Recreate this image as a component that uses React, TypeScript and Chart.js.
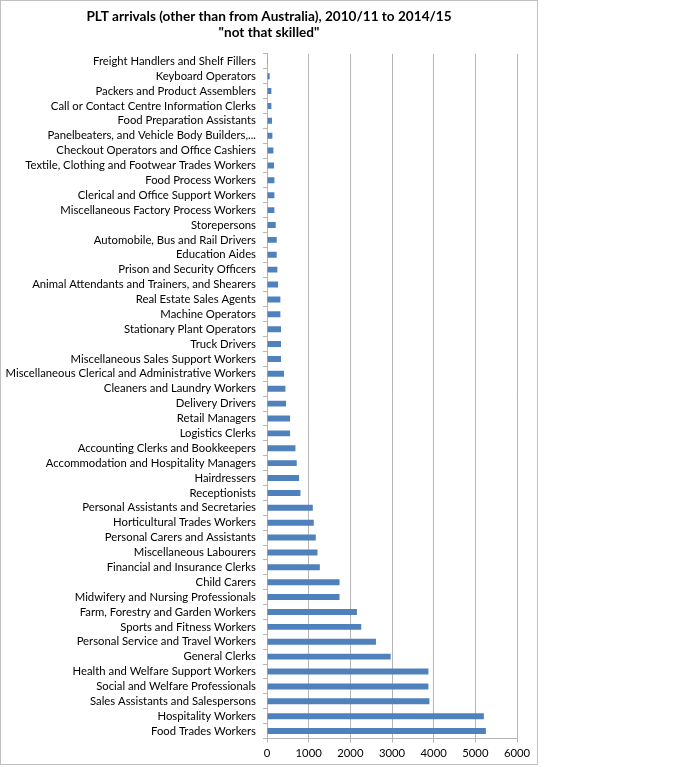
import React, { useEffect, useRef } from "react";
import { Chart, registerables } from "chart.js";

Chart.register(...registerables);

const categories: string[] = [
  "Freight Handlers and Shelf Fillers",
  "Keyboard Operators",
  "Packers and Product Assemblers",
  "Call or Contact Centre Information Clerks",
  "Food Preparation Assistants",
  "Panelbeaters, and Vehicle Body Builders,...",
  "Checkout Operators and Office Cashiers",
  "Textile, Clothing and Footwear Trades Workers",
  "Food Process Workers",
  "Clerical and Office Support Workers",
  "Miscellaneous Factory Process Workers",
  "Storepersons",
  "Automobile, Bus and Rail Drivers",
  "Education Aides",
  "Prison and Security Officers",
  "Animal Attendants and Trainers, and Shearers",
  "Real Estate Sales Agents",
  "Machine Operators",
  "Stationary Plant Operators",
  "Truck Drivers",
  "Miscellaneous Sales Support Workers",
  "Miscellaneous Clerical and Administrative Workers",
  "Cleaners and Laundry Workers",
  "Delivery Drivers",
  "Retail Managers",
  "Logistics Clerks",
  "Accounting Clerks and Bookkeepers",
  "Accommodation and Hospitality Managers",
  "Hairdressers",
  "Receptionists",
  "Personal Assistants and Secretaries",
  "Horticultural Trades Workers",
  "Personal Carers and Assistants",
  "Miscellaneous Labourers",
  "Financial and Insurance Clerks",
  "Child Carers",
  "Midwifery and Nursing Professionals",
  "Farm, Forestry and Garden Workers",
  "Sports and Fitness Workers",
  "Personal Service and Travel Workers",
  "General Clerks",
  "Health and Welfare Support Workers",
  "Social and Welfare Professionals",
  "Sales Assistants and Salespersons",
  "Hospitality Workers",
  "Food Trades Workers",
];

const arrivals: number[] = [
  20, 65, 105, 105, 121, 129, 153, 169, 177, 177, 177, 209, 233, 233, 249, 265,
  321, 321, 337, 337, 337, 409, 442, 458, 554, 554, 683, 714, 770, 803, 1099,
  1123, 1171, 1212, 1268, 1741, 1741, 2158, 2262, 2615, 2968, 3874, 3874, 3898,
  5205, 5253,
];

const titleLines: string[] = [
  "PLT arrivals (other than from Australia), 2010/11 to 2014/15",
  '"not that skilled"',
];

const xMin = 0;
const xMax = 6000;
const xStep = 1000;

export default function App() {
  const canvasRef = useRef<HTMLCanvasElement | null>(null);

  useEffect(() => {
    document.body.style.margin = "0";
    const canvas = canvasRef.current;
    if (!canvas) return;
    const chart = new Chart(canvas, {
      type: "bar",
      data: {
        labels: categories,
        datasets: [
          {
            data: arrivals,
            backgroundColor: "#4F81BD",
            borderWidth: 0,
            barPercentage: 0.4,
            categoryPercentage: 1,
          },
        ],
      },
      options: {
        indexAxis: "y",
        responsive: false,
        animation: false,
        devicePixelRatio: 1,
        layout: { padding: 0 },
        plugins: {
          legend: { display: false },
          tooltip: { enabled: false },
          title: {
            display: true,
            text: titleLines,
            color: "#000",
            font: { family: "Lato", size: 13.6, weight: "bold", lineHeight: 1.17 },
            padding: { top: 8, bottom: 13 },
          },
        },
        scales: {
          x: {
            min: xMin,
            max: xMax,
            ticks: {
              stepSize: xStep,
              color: "#000",
              padding: 4,
              font: { family: "Lato", size: 11.3 },
              callback: (v: any) => String(v),
            },
            grid: {
              color: "#b5b5b5",
              tickLength: 4,
              lineWidth: 1,
            },
            border: { color: "#b5b5b5" },
            afterFit: (scale: any) => {
              scale.height = 25.5;
            },
          },
          y: {
            ticks: {
              color: "#000",
              padding: 7,
              autoSkip: false,
              font: { family: "Lato", size: 11.3 },
            },
            grid: {
              drawOnChartArea: false,
              drawTicks: true,
              tickLength: 4,
              color: "#b5b5b5",
              offset: true,
            },
            border: { color: "#b5b5b5" },
            afterFit: (scale: any) => {
              scale.width = 266;
            },
          },
          spacer: {
            type: "category",
            position: "right",
            axis: "y",
            labels: categories,
            ticks: { display: false },
            grid: { display: false },
            border: { display: false },
            afterFit: (scale: any) => {
              scale.width = 20;
            },
          },
        },
      },
    });
    return () => chart.destroy();
  }, []);

  return (
    <div
      style={{
        position: "absolute",
        left: 0,
        top: 0,
        width: 536,
        height: 763,
        border: "1px solid #c0c0c0",
        background: "#fff",
      }}
    >
      <canvas ref={canvasRef} width={536} height={763} style={{ display: "block" }} />
    </div>
  );
}
